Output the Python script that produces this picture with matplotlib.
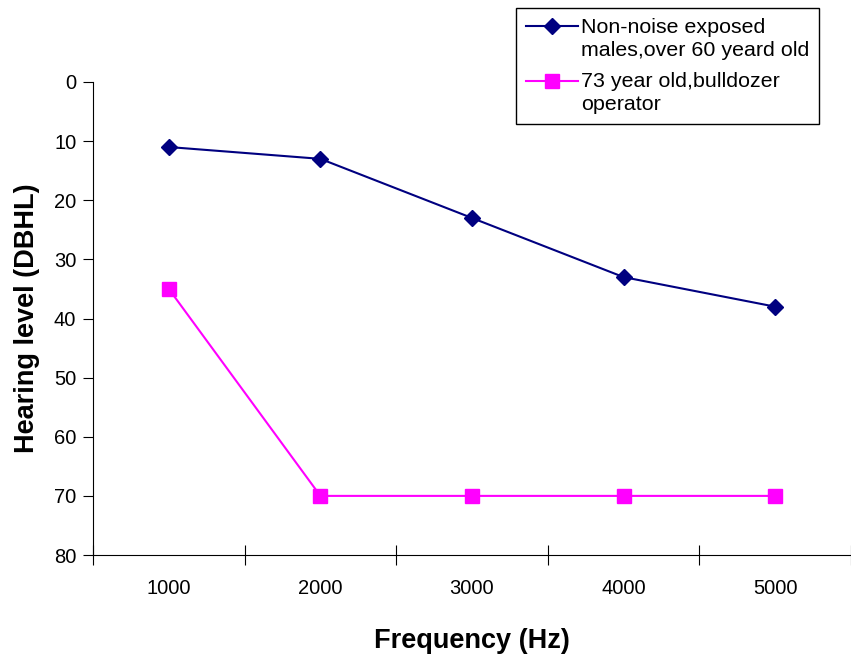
import matplotlib
matplotlib.use("Agg")
import numpy as np
import matplotlib.pyplot as plt
from matplotlib.ticker import FixedLocator, NullFormatter, FixedFormatter
from matplotlib.legend_handler import HandlerLine2D

plt.rcParams['font.family'] = ['Liberation Sans', 'DejaVu Sans']

freqs = ["1000", "2000", "3000", "4000", "5000"]
non_noise = [11, 13, 23, 33, 38]
bulldozer = [35, 70, 70, 70, 70]
yticks = [0, 10, 20, 30, 40, 50, 60, 70, 80]


class UpHandler(HandlerLine2D):
    def __init__(self, off, **kw):
        super().__init__(**kw)
        self.off = off

    def create_artists(self, legend, orig_handle, xdescent, ydescent, width,
                       height, fontsize, trans):
        arts = super().create_artists(legend, orig_handle, xdescent, ydescent,
                                      width, height, fontsize, trans)
        for a in arts:
            a.set_ydata(np.asarray(a.get_ydata(), dtype=float) + self.off)
        return arts


fig = plt.figure(figsize=(8.51, 6.58), dpi=100)
ax = fig.add_axes([0.1093, 0.1565, 0.8907, 0.7189])

x = list(range(1, len(freqs) + 1))
l1, = ax.plot(x, non_noise, color='#000080', marker='D', markersize=8, linewidth=1.5,
              label='Non-noise exposed\nmales,over 60 yeard old')
l2, = ax.plot(x, bulldozer, color='#FF00FF', marker='s', markersize=10, linewidth=1.5,
              label='73 year old,bulldozer\noperator')

ax.set_xlim(0.5, len(freqs) + 0.5)
ax.set_ylim(80, 0)
ax.set_yticks(yticks)
ax.tick_params(axis='y', direction='out', length=7, labelsize=14.5, pad=5)
ax.xaxis.set_major_locator(FixedLocator([i + 0.5 for i in range(len(freqs) + 1)]))
ax.xaxis.set_major_formatter(NullFormatter())
ax.xaxis.set_minor_locator(FixedLocator(x))
ax.xaxis.set_minor_formatter(FixedFormatter(freqs))
ax.tick_params(axis='x', which='major', direction='inout', length=14)
ax.tick_params(axis='x', which='minor', length=0, labelsize=14.5, pad=17)

for s in ['top', 'right']:
    ax.spines[s].set_visible(False)

ax.set_xlabel('Frequency (Hz)', fontsize=19.5, fontweight='bold', labelpad=22)
ax.set_ylabel('Hearing level (DBHL)', fontsize=19.5, fontweight='bold', labelpad=10)

hmap = {l1: UpHandler(9), l2: UpHandler(9)}
leg = fig.legend(handles=[l1, l2], handler_map=hmap,
                 loc='upper left', bbox_to_anchor=(516/851, 1 - 8/658), fontsize=15.4,
                 frameon=True, fancybox=False, edgecolor='black', framealpha=1,
                 handlelength=2.45, borderpad=0.45, labelspacing=0.55, handletextpad=0.15,
                 borderaxespad=0)
leg.get_frame().set_linewidth(1.0)
for t in leg.get_texts():
    t.set_linespacing(1.3)

fig.savefig('out.png', dpi=100)
